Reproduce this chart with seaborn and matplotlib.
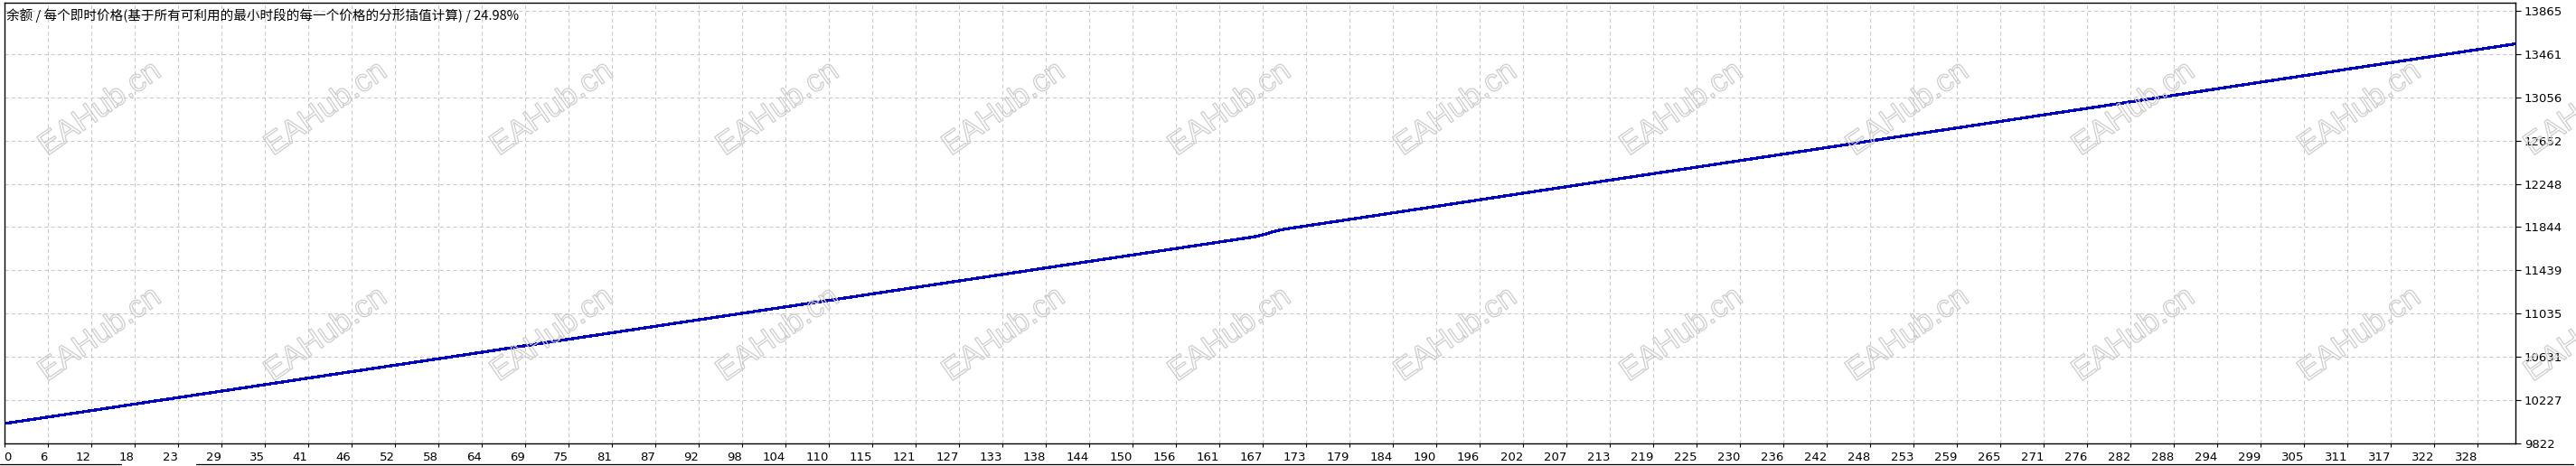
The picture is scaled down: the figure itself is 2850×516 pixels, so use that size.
import numpy as np
import pandas as pd
import matplotlib
matplotlib.use("Agg")
import matplotlib.pyplot as plt
import matplotlib.patheffects as pe
from matplotlib.lines import Line2D
import seaborn as sns

# ---- data ----
trade_no = [0, 10, 20, 30, 40, 50, 60, 70, 80, 90, 100, 110, 120, 130, 140, 150,
            160, 166, 167, 168, 169, 170, 180, 190, 200, 210, 220, 230, 240, 250,
            260, 270, 280, 290, 300, 310, 320, 330, 333]
balance = [10005, 10110, 10216, 10321, 10427, 10532, 10637, 10743, 10848, 10954,
           11059, 11164, 11270, 11375, 11481, 11586, 11691, 11755, 11772, 11795,
           11812, 11826, 11932, 12038, 12145, 12251, 12357, 12463, 12569, 12676,
           12782, 12888, 12994, 13100, 13207, 13313, 13419, 13525, 13557]

x_tick_labels = ["0", "6", "12", "18", "23", "29", "35", "41", "46", "52", "58", "64",
                 "69", "75", "81", "87", "92", "98", "104", "110", "115", "121", "127",
                 "133", "138", "144", "150", "156", "161", "167", "173", "179", "184",
                 "190", "196", "202", "207", "213", "219", "225", "230", "236", "242",
                 "248", "253", "259", "265", "271", "276", "282", "288", "294", "299",
                 "305", "311", "317", "322", "328"]
y_ticks = [9822, 10227, 10631, 11035, 11439, 11844, 12248, 12652, 13056, 13461, 13865]

title = "余额 / 每个即时价格(基于所有可利用的最小时段的每一个价格的分形插值计算) / 24.98%"
watermark = "EAHub.cn"

df = pd.DataFrame({"trade": trade_no, "balance": balance})

# ---- figure ----
sns.set_style("white")
plt.rcParams["font.family"] = ["DejaVu Sans"]

W, H = 2850, 516
fig = plt.figure(figsize=(W / 100, H / 100), dpi=100)
fig.patch.set_facecolor("white")

left_px, right_px, top_px, bot_px = 4.5, 2783, 3, 490.7
ax = fig.add_axes([left_px / W, 1 - bot_px / H, (right_px - left_px) / W, (bot_px - top_px) / H])

sns.lineplot(data=df, x="trade", y="balance", ax=ax, color="#0000C0",
             linewidth=1.6, antialiased=False, legend=False)

ax.set_xlim(0, 333)
ax.set_ylim(9822, 13942)

last = float(x_tick_labels[-1])
xt = np.arange(len(x_tick_labels)) * last / (len(x_tick_labels) - 1)
ax.set_xticks(xt)
ax.set_xticklabels(x_tick_labels)
ax.set_yticks(y_ticks)
ax.set_yticklabels([str(v) for v in y_ticks])
ax.yaxis.tick_right()

ax.set_xlabel("")
ax.set_ylabel("")

ax.tick_params(axis="x", direction="out", length=3, width=0.8, color="black",
               labelsize=9.5, pad=3.5, labelcolor="black", bottom=True)
ax.tick_params(axis="y", direction="out", length=4, width=0.8, color="black",
               labelsize=9.5, pad=3, labelcolor="black", right=True, left=False)
for i, lab in enumerate(ax.get_xticklabels()):
    lab.set_ha("left" if i == 0 else "right")

ax.grid(True, color="#c8c8c8", linestyle=(0, (4, 3)), linewidth=0.75)
ax.set_axisbelow(True)
for s in ax.spines.values():
    s.set_visible(True)
    s.set_color("black")
    s.set_linewidth(1.0)

# title inside the plot
fig.text(7 / W, 1 - 17 / H, title, fontsize=10.5, va="center", ha="left",
         family=["Noto Sans CJK SC", "DejaVu Sans"], color="black")

# watermarks (outlined text)
for row_y in (173, 423):
    for k in range(12):
        x0 = 52 + k * 250
        fig.text(x0 / W, 1 - row_y / H, watermark, fontsize=25, rotation=35,
                 rotation_mode="anchor", ha="left", va="baseline",
                 family=["Liberation Sans", "DejaVu Sans"], color="none",
                 path_effects=[pe.Stroke(linewidth=0.9, foreground="#cdcdcd")],
                 zorder=5)

# bottom tab-bar lines
fig.add_artist(Line2D([0, 134 / W], [1 - 513.5 / H] * 2, color="black", lw=0.9,
                      transform=fig.transFigure))
fig.add_artist(Line2D([217 / W, 2847 / W], [1 - 513.5 / H] * 2, color="black", lw=0.9,
                      transform=fig.transFigure))

fig.savefig("out.png", dpi=100, facecolor="white")
